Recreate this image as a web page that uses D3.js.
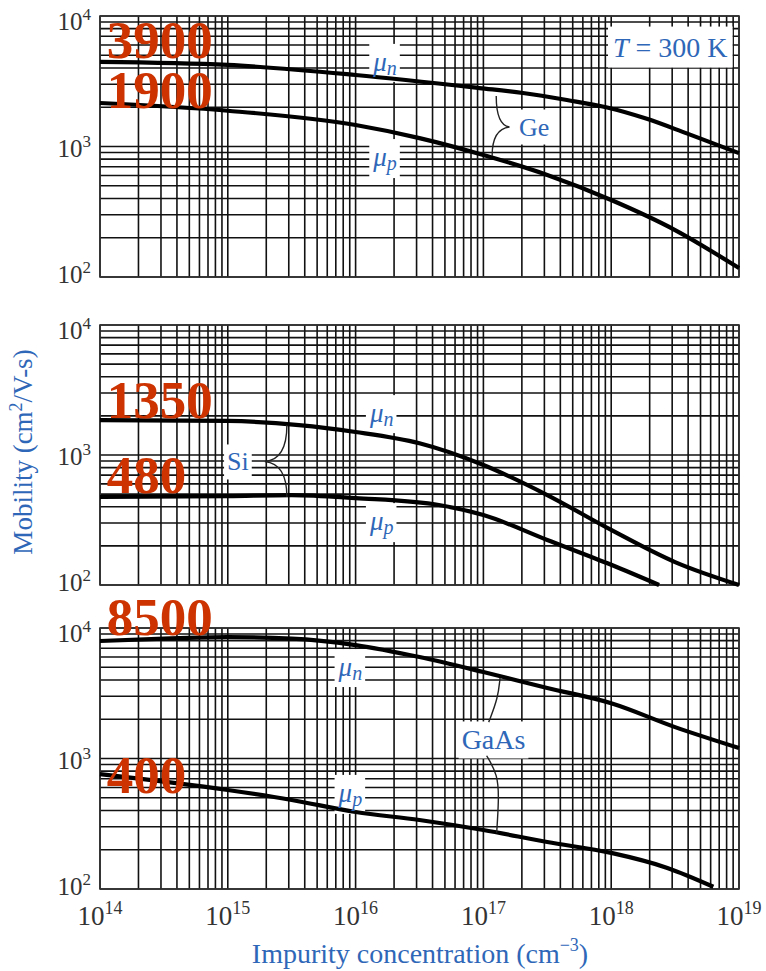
<!DOCTYPE html>
<html>
<head>
<meta charset="utf-8">
<script src="https://cdn.jsdelivr.net/npm/d3@7"></script>
<style>
  body { margin: 0; background: #fff; }
  svg { display: block; }
</style>
</head>
<body>
<svg width="766" height="971"></svg>
<script>
// decades on the two axes
var xDecades = [14, 15, 16, 17, 18, 19];
var yDecades = [2, 3, 4];

// [impurity concentration (cm^-3), mobility (cm2/V-s)]
var geMuN = [[1e14, 4450], [1e15, 4215], [1e16, 3530], [9.3e16, 2805], [2.04e17, 2570],
             [4.5e17, 2270], [9.3e17, 1990], [1.9e18, 1630], [3.9e18, 1260], [1e19, 890]];
var geMuP = [[1e14, 2155], [1e15, 1880], [1e16, 1460], [3.16e16, 1160], [1e17, 860],
             [3.16e17, 605], [1e18, 389], [3.16e18, 229], [1e19, 117]];
var siMuN = [[1e14, 1857], [1e15, 1827], [3.6e15, 1700], [1e16, 1503], [3.16e16, 1230],
             [1e17, 838], [3.16e17, 492], [1e18, 265], [3.16e18, 150], [1e19, 100]];
var siMuP = [[1e14, 475], [1e15, 482], [3.16e15, 492], [1e16, 466], [4.6e16, 411],
             [1e17, 345], [3.16e17, 222], [1e18, 143], [2.37e18, 100]];
var gaasMuN = [[1e14, 7950], [3.16e14, 8300], [1e15, 8500], [3.16e15, 8300], [1e16, 7400],
               [3.16e16, 5990], [1e17, 4600], [3.16e17, 3470], [1e18, 2650],
               [3.16e18, 1740], [1e19, 1203]];
var gaasMuP = [[1e14, 760], [1e15, 574], [3.16e15, 481], [1e16, 389], [3.16e16, 338],
               [1e17, 283], [3.16e17, 229], [1e18, 189], [2.75e18, 145], [6.3e18, 104]];

// the red values written over the left edge
var redValues = ["3900", "1900", "1350", "480", "8500", "400"];

var svg = d3.select("svg");
var serif = "'Liberation Serif', 'Times New Roman', serif";
var blue = "#2f67b8";
var red = "#cc3300";

var x = d3.scaleLog().domain([1e14, 1e19]).range([100, 739]);

function pow(k) { return Math.pow(10, k); }

var xGrid = [];
xDecades.slice(0, -1).forEach(function(k) {
  d3.range(1, 10).forEach(function(m) { xGrid.push(m * pow(k)); });
});
xGrid.push(1e19);
var yGrid = [];
yDecades.slice(0, -1).forEach(function(k) {
  d3.range(1, 10).forEach(function(m) { yGrid.push(m * pow(k)); });
});
yGrid.push(1e4);

var panels = [
  { name: "Ge", top: 16, bottom: 277, curves: [geMuN, geMuP], red: [[1.13e14, 4770, 0], [1.13e14, 1970, 1]] },
  { name: "Si", top: 325, bottom: 585, curves: [siMuN, siMuP], red: [[1.13e14, 1930, 2], [1.13e14, 510, 3]] },
  { name: "GaAs", top: 628, bottom: 889, curves: [gaasMuN, gaasMuP], red: [[1.13e14, 8840, 4], [1.13e14, 545, 5]] }
];

panels.forEach(function(p) {
  p.y = d3.scaleLog().domain([1e2, 1e4]).range([p.bottom, p.top]);
  p.g = svg.append("g").attr("class", "panel " + p.name);
  p.gridG = p.g.append("g");
  p.boxG = p.g.append("g");
  p.curveG = p.g.append("g");
  p.textG = p.g.append("g");
});

// grid and frame
panels.forEach(function(p) {
  p.gridG.selectAll("line.v").data(xGrid).enter().append("line")
      .attr("x1", function(d) { return x(d); })
      .attr("x2", function(d) { return x(d); })
      .attr("y1", p.top).attr("y2", p.bottom)
      .attr("stroke", "#111").attr("stroke-width", 1.6);
  p.gridG.selectAll("line.h").data(yGrid).enter().append("line")
      .attr("x1", 100).attr("x2", 739)
      .attr("y1", function(d) { return p.y(d); })
      .attr("y2", function(d) { return p.y(d); })
      .attr("stroke", "#111").attr("stroke-width", 1.6);
  p.gridG.append("rect")
      .attr("x", 100).attr("y", p.top)
      .attr("width", 639).attr("height", p.bottom - p.top)
      .attr("fill", "none").attr("stroke", "#333").attr("stroke-width", 1.6);

  // y tick labels 10^k
  var dys = [6, 10, 14];
  yDecades.forEach(function(k, i) {
    var t = p.gridG.append("text")
        .attr("x", 91).attr("y", p.y(pow(k)) + dys[i])
        .attr("text-anchor", "end")
        .attr("font-family", serif).attr("font-size", 25).attr("fill", "#333");
    t.append("tspan").text("10");
    t.append("tspan").attr("font-size", 17).attr("dy", -10).text(k);
  });
});

// x tick labels under the last panel
var last = panels[2];
xDecades.forEach(function(k) {
  var t = svg.append("text")
      .attr("x", x(pow(k))).attr("y", last.bottom + 36)
      .attr("text-anchor", "middle")
      .attr("font-family", serif).attr("font-size", 27).attr("fill", "#333");
  t.append("tspan").text("10");
  t.append("tspan").attr("font-size", 18).attr("dy", -11).text(k);
});

// curves
var line = d3.line().curve(d3.curveMonotoneX);
panels.forEach(function(p) {
  p.curveG.selectAll("path").data(p.curves).enter().append("path")
      .attr("d", function(d) { return line(d.map(function(v) { return [x(v[0]), p.y(v[1])]; })); })
      .attr("fill", "none").attr("stroke", "#000").attr("stroke-width", 4.2);
});

// blue label with a white knock-out box
function label(p, cx, cy, build, pad) {
  var t = p.textG.append("text")
      .attr("x", x(cx)).attr("y", p.y(cy))
      .attr("text-anchor", "middle").attr("dominant-baseline", "central")
      .attr("font-family", serif).attr("fill", blue);
  build(t);
  var b = t.node().getBBox();
  pad = pad || 3;
  p.boxG.append("rect")
      .attr("x", b.x - pad).attr("y", b.y - pad)
      .attr("width", b.width + 2 * pad).attr("height", b.height + 2 * pad)
      .attr("fill", "#fff");
}
function mu(sub) {
  return function(t) {
    t.attr("font-size", 27).attr("font-style", "italic");
    t.append("tspan").text("\u03bc");
    t.append("tspan").attr("font-size", 20).attr("dy", 6).text(sub);
  };
}
function plain(s, size) {
  return function(t) { t.attr("font-size", size || 26).text(s); };
}

var ge = panels[0], si = panels[1], gaas = panels[2];
label(ge, 1.7e16, 4450, mu("n"));
label(ge, 1.7e16, 830, mu("p"));
label(ge, 2.5e17, 1410, plain("Ge"));
label(ge, 2.9e18, 5780, function(t) {
  t.attr("font-size", 28);
  t.append("tspan").attr("font-style", "italic").text("T");
  t.append("tspan").text(" = 300 K");
}, 5);
label(si, 1.6e16, 2100, mu("n"));
label(si, 1.6e16, 310, mu("p"));
label(si, 1.2e15, 884, plain("Si"));
label(gaas, 9.1e15, 5020, mu("n"));
label(gaas, 9.1e15, 545, mu("p"));
label(gaas, 1.2e17, 1387, plain("GaAs", 28));

// braces and leaders
function brace(p, top, tip, bottom) {
  var a = [x(top[0]), p.y(top[1])], c = [x(tip[0]), p.y(tip[1])], b = [x(bottom[0]), p.y(bottom[1])];
  var path = d3.path();
  path.moveTo(a[0], a[1]);
  path.quadraticCurveTo(a[0], c[1] - 2, c[0], c[1]);
  path.quadraticCurveTo(b[0], c[1] + 2, b[0], b[1]);
  p.textG.append("path").attr("d", path.toString())
      .attr("fill", "none").attr("stroke", "#222").attr("stroke-width", 1.4);
}
brace(ge, [1.26e17, 2440], [1.6e17, 1410], [1.17e17, 845]);
brace(si, [2.9e15, 1700], [1.95e15, 890], [2.9e15, 475]);

var leader = d3.line().curve(d3.curveBasis);
function lead(p, pts) {
  p.textG.append("path")
      .attr("d", leader(pts.map(function(v) { return [x(v[0]), p.y(v[1])]; })))
      .attr("fill", "none").attr("stroke", "#222").attr("stroke-width", 1.4);
}
lead(gaas, [[1.1e17, 1900], [1.3e17, 2900], [1.35e17, 4140]]);
lead(gaas, [[1.06e17, 1050], [1.3e17, 748], [1.32e17, 481], [1.27e17, 270]]);

// red values
panels.forEach(function(p) {
  p.red.forEach(function(r) {
    p.textG.append("text")
        .attr("x", x(r[0])).attr("y", p.y(r[1]))
        .attr("font-family", serif).attr("font-weight", "bold")
        .attr("font-size", 53).attr("fill", red)
        .text(redValues[r[2]]);
  });
});

// axis titles
svg.append("text")
    .attr("transform", "translate(32,452) rotate(-90)")
    .attr("text-anchor", "middle")
    .attr("font-family", serif).attr("font-size", 27).attr("fill", blue)
    .call(function(t) {
      t.append("tspan").text("Mobility (cm");
      t.append("tspan").attr("font-size", 18).attr("dy", -10).text("2");
      t.append("tspan").attr("dy", 10).text("/V-s)");
    });
svg.append("text")
    .attr("x", 420).attr("y", 963)
    .attr("text-anchor", "middle")
    .attr("font-family", serif).attr("font-size", 28).attr("fill", blue)
    .call(function(t) {
      t.append("tspan").text("Impurity concentration (cm");
      t.append("tspan").attr("font-size", 18).attr("dy", -12).text("\u22123");
      t.append("tspan").attr("dy", 12).text(")");
    });
</script>
</body>
</html>
